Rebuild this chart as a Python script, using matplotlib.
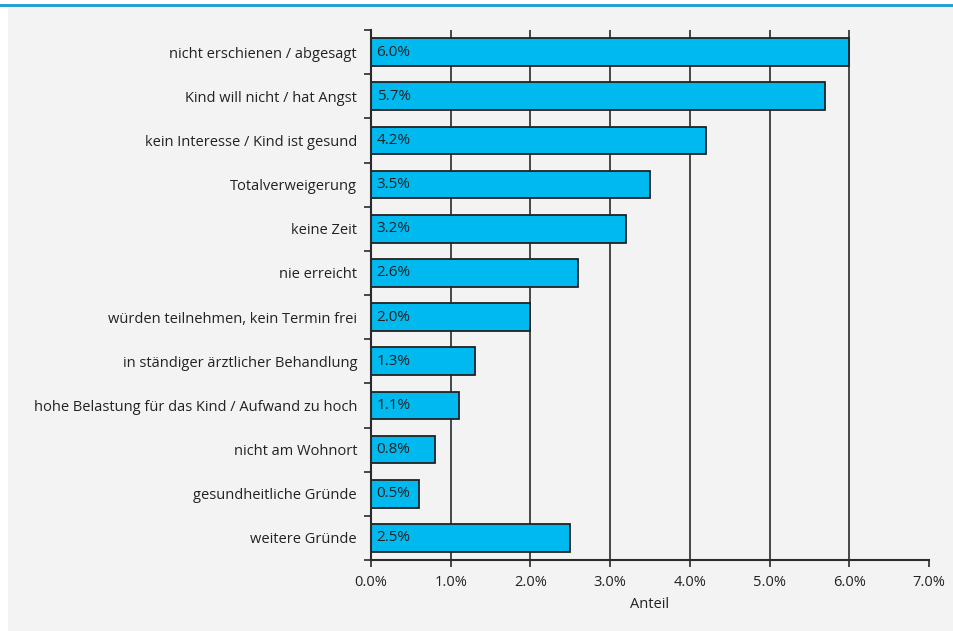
import matplotlib
matplotlib.use("Agg")
import matplotlib.pyplot as plt
from matplotlib.patches import Rectangle
from matplotlib.ticker import FixedLocator, FuncFormatter

categories = [
    "nicht erschienen / abgesagt",
    "Kind will nicht / hat Angst",
    "kein Interesse / Kind ist gesund",
    "Totalverweigerung",
    "keine Zeit",
    "nie erreicht",
    "würden teilnehmen, kein Termin frei",
    "in ständiger ärztlicher Behandlung",
    "hohe Belastung für das Kind / Aufwand zu hoch",
    "nicht am Wohnort",
    "gesundheitliche Gründe",
    "weitere Gründe",
]
values = [6.0, 5.7, 4.2, 3.5, 3.2, 2.6, 2.0, 1.3, 1.1, 0.8, 0.6, 2.5]
labels = ["6.0%", "5.7%", "4.2%", "3.5%", "3.2%", "2.6%", "2.0%", "1.3%", "1.1%", "0.8%", "0.5%", "2.5%"]
xticks = [0, 1, 2, 3, 4, 5, 6, 7]

plt.rcParams['font.family'] = ['Open Sans', 'DejaVu Sans']
BG = "#f3f3f3"
TXT = "#222222"

fig = plt.figure(figsize=(9.54, 6.31), dpi=100)
fig.patch.set_facecolor("white")
# gray panel and blue top line
fig.patches.append(Rectangle((8/954, 0), 1 - 8/954, 1 - 7/631, transform=fig.transFigure,
                             facecolor=BG, edgecolor="none", zorder=-10))
fig.patches.append(Rectangle((0, 1 - 7/631), 1, 3/631, transform=fig.transFigure,
                             facecolor="#2a9fd0", edgecolor="none", zorder=-9))

ax = fig.add_axes([371/954, 1 - 560/631, (929 - 371)/954, (560 - 30)/631])
ax.set_facecolor(BG)
ax.set_zorder(1)

n = len(categories)
ypos = list(range(n))
ax.barh(ypos, values, height=0.63, color="#00b9ef", edgecolor="#222222", linewidth=1.3, zorder=3)
for y, v, lab in zip(ypos, values, labels):
    ax.text(0.07, y, lab, va="center", ha="left", fontsize=11, color=TXT, zorder=4)

ax.set_ylim(n - 0.5, -0.5)
ax.set_xlim(0, 7)
ax.set_yticks(ypos)
ax.set_yticklabels(categories, fontsize=10.5, color=TXT)
ax.yaxis.set_minor_locator(FixedLocator([i - 0.5 for i in range(n + 1)]))
ax.tick_params(axis="y", which="major", length=0, pad=10)
ax.tick_params(axis="y", which="minor", length=5, width=1.2, color="#2a2a2a", direction="out")

ax.set_xticks(xticks)
ax.xaxis.set_major_formatter(FuncFormatter(lambda v, p: f"{v:.1f}%"))
ax.tick_params(axis="x", length=5, width=1.2, color="#2a2a2a", labelsize=10.5, labelcolor=TXT, pad=6)
for t in xticks[1:-1]:
    ax.axvline(t, color="#2a2a2a", linewidth=1.2, zorder=1)

for s in ["top", "right"]:
    ax.spines[s].set_visible(False)
for s in ["left", "bottom"]:
    ax.spines[s].set_color("#2a2a2a")
    ax.spines[s].set_linewidth(1.5)
    ax.spines[s].set_zorder(5)

ax.set_xlabel("Anteil", fontsize=10.5, color=TXT, labelpad=5)

fig.savefig("out.png", dpi=100, facecolor=fig.get_facecolor())
